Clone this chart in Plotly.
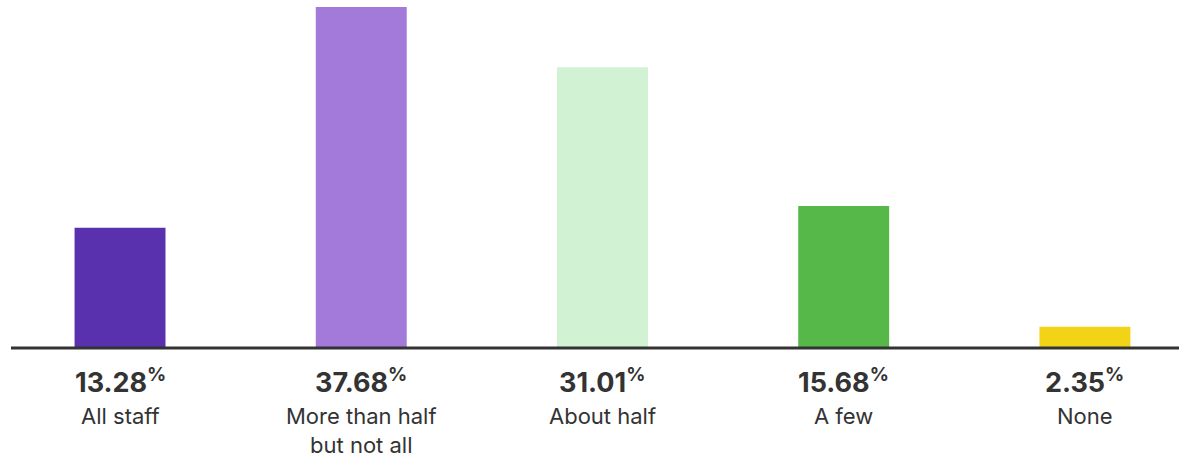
import plotly.graph_objects as go

categories = ["All staff", "More than half<br>but not all", "About half", "A few", "None"]
values = [13.28, 37.68, 31.01, 15.68, 2.35]
colors = ["#5930AE", "#A379DA", "#D1F2D3", "#57B84A", "#F2D316"]

xs = list(range(len(categories)))

fig = go.Figure(go.Bar(x=xs, y=values, marker=dict(color=colors, line=dict(width=0)),
                       width=0.377, hoverinfo="skip"))

annotations = []
for i, (c, v) in enumerate(zip(categories, values)):
    annotations.append(dict(x=i, y=0, xref="x", yref="paper", yanchor="middle",
                            yshift=-33, showarrow=False,
                            text=f"<b>{v:.2f}<sup style='font-size:13px'>%</sup></b>",
                            font=dict(family="Inter", size=27, color="#333333")))
    annotations.append(dict(x=i, y=0, xref="x", yref="paper", yanchor="top",
                            yshift=-53, showarrow=False, text=c,
                            font=dict(family="Inter", size=22, color="#333333")))

fig.update_layout(
    width=1179, height=458,
    margin=dict(l=11, r=0, t=7, b=110),
    paper_bgcolor="white", plot_bgcolor="white",
    showlegend=False,
    xaxis=dict(range=[-0.452, 4.39], showticklabels=False, showgrid=False, zeroline=False,
               showline=False, fixedrange=True),
    yaxis=dict(range=[0, 37.68], showticklabels=False, showgrid=False, zeroline=False,
               showline=False, fixedrange=True),
    annotations=annotations,
    shapes=[dict(type="line", xref="paper", yref="paper", x0=0, x1=1, y0=0, y1=0,
                 line=dict(color="#333333", width=3))],
)

fig.write_html("out.html")
